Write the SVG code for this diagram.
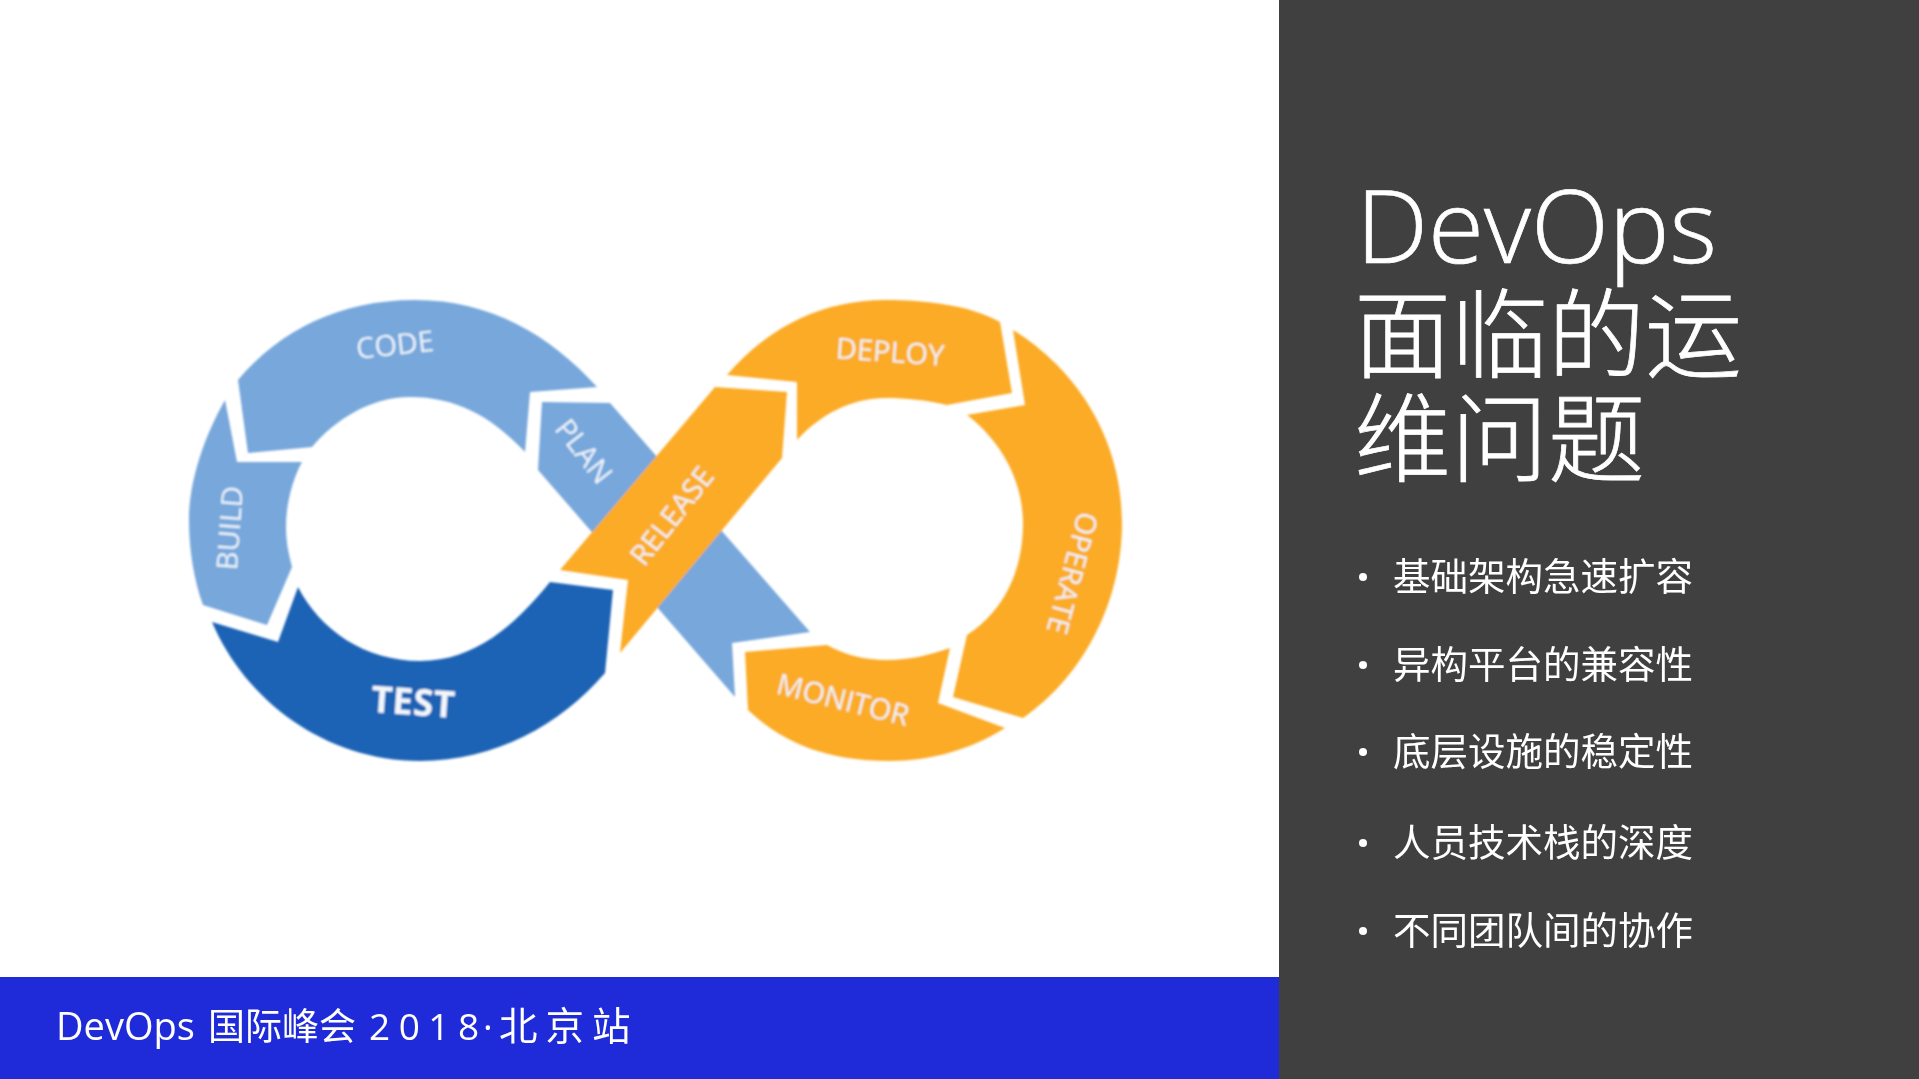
<svg xmlns="http://www.w3.org/2000/svg" width="1919" height="1079" viewBox="0 0 1919 1079">
<style>
.lbl{font-family:"Open Sans","Noto Sans",sans-serif;fill:#eef4fa;text-anchor:middle;font-size:29px}
.blt{font-family:"Noto Sans CJK SC",sans-serif;font-size:37.5px;fill:#fff}
.ttl{font-family:"Noto Sans CJK SC",sans-serif;font-size:97px;font-weight:300;fill:#fff;stroke:#fff;stroke-width:.8}
.ftr{font-family:"Noto Sans CJK SC",sans-serif;font-size:37px;fill:#fff}
.lat{font-family:"Open Sans",sans-serif}
.lb{fill:#77a7db}.db{fill:#1f63b5}.or{fill:#fbab26}
</style>
<defs><filter id="soft" x="-5%" y="-5%" width="110%" height="110%"><feGaussianBlur stdDeviation="0.9"/></filter></defs>
<rect width="1919" height="1079" fill="#fff"/>
<rect id="panel" x="1279" width="640" height="1079" fill="#404040"/>
<rect id="footer-bar" y="977" width="1279" height="102" fill="#1f2bd9"/>
<g id="loop" filter="url(#soft)">
<g id="plan"><path class="lb" d="M542 402L610 403L810 632L732 643L735 697L538 470Z"/><text class="lbl" transform="translate(583 452) rotate(52)" y="9">PLAN</text></g>
<g id="code"><path class="lb" d="M238 380C280 330 340 300 415 300C490 300 550 335 597 387L530 392L525 452C490 415 455 397 410 397C370 397 335 420 312 447L248 453Z"/><text class="lbl" transform="translate(395 345) rotate(-6)" y="10">CODE</text></g>
<g id="build"><path class="lb" d="M225 400L237 462L302 462C292 480 286 505 286 527C286 545 290 558 292 567L267 625L203 605C194 580 189 550 189 520C189 480 205 435 225 400Z"/><text class="lbl" transform="translate(230 528) rotate(-86)" y="10">BUILD</text></g>
<g id="test"><path class="db" d="M212 622L278 642L298 587C320 630 365 661 420 661C475 661 515 625 550 582L613 590L605 673C560 725 495 761 420 761C325 761 245 700 212 622Z"/><text class="lbl" font-weight="700" style="fill:#f3f7fc;font-size:37px" transform="translate(413 702) rotate(4)" y="13">TEST</text></g>
<g id="release"><path class="or" d="M560 570L715 387L787 392L782 458L620 653L628 580Z"/><text class="lbl" transform="translate(672 516) rotate(-52)" y="10">RELEASE</text></g>
<g id="deploy"><path class="or" d="M727 375C770 325 825 300 885 300C925 300 970 305 1000 322L1012 393L947 405C925 400 905 398 887 398C850 398 820 415 797 440L797 382Z"/><text class="lbl" transform="translate(890 352) rotate(4)" y="10">DEPLOY</text></g>
<g id="operate"><path class="or" d="M1013 330C1078 370 1122 440 1122 523C1122 600 1085 675 1023 718L953 697L967 635C1005 610 1023 570 1023 523C1023 480 1000 440 967 415L1025 405Z"/><text class="lbl" transform="translate(1072 573) rotate(105)" y="10">OPERATE</text></g>
<g id="monitor"><path class="or" d="M745 652L827 645C845 655 865 660 887 660C910 660 930 655 950 648L938 703L1005 728C970 750 930 761 890 761C830 761 785 745 748 710Z"/><text class="lbl" transform="translate(843 700) rotate(14)" y="10">MONITOR</text></g>
</g>
<g id="title">
<text class="lat" x="1356" y="263" style="font-size:102px;font-weight:300;fill:#fff;stroke:#fff;stroke-width:.7">DevOps</text>
<text class="ttl" x="1354" y="370">面临的运</text>
<text class="ttl" x="1354" y="474">维问题</text>
</g>
<g id="bullets">
<g id="b1"><circle cx="1363" cy="577" r="4" fill="#fff"/><text class="blt" x="1393" y="590">基础架构急速扩容</text></g>
<g id="b2"><circle cx="1363" cy="665" r="4" fill="#fff"/><text class="blt" x="1393" y="678">异构平台的兼容性</text></g>
<g id="b3"><circle cx="1363" cy="752" r="4" fill="#fff"/><text class="blt" x="1393" y="765">底层设施的稳定性</text></g>
<g id="b4"><circle cx="1363" cy="843" r="4" fill="#fff"/><text class="blt" x="1393" y="856">人员技术栈的深度</text></g>
<g id="b5"><circle cx="1363" cy="931" r="4" fill="#fff"/><text class="blt" x="1393" y="944">不同团队间的协作</text></g>
</g>
<g id="footer">
<text class="ftr" y="1040"><tspan x="56" class="lat" font-size="38">DevOps</tspan><tspan x="208">国际峰会</tspan><tspan x="369" letter-spacing="8.5" class="lat">2018</tspan><tspan x="483" class="lat">·</tspan><tspan x="499" letter-spacing="8" font-size="38.5">北京站</tspan></text>
</g>
</svg>
